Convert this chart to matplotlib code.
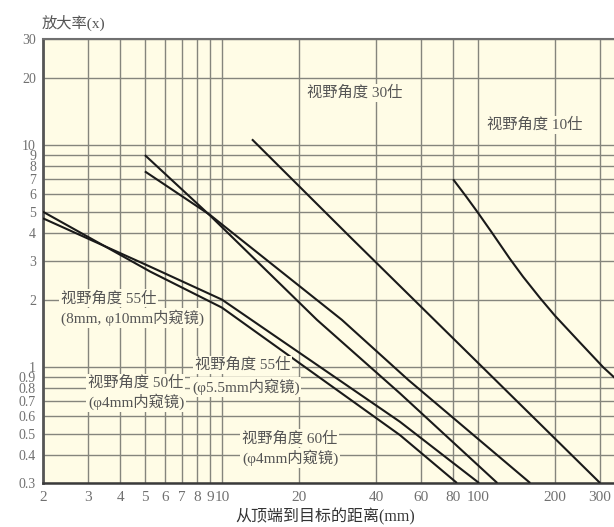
import matplotlib
matplotlib.use("Agg")
import matplotlib.pyplot as plt

# ---------------- data ----------------
x_ticks = [2, 3, 4, 5, 6, 7, 8, 9, 10, 20, 40, 60, 80, 100, 200, 300]
x_tick_labels = ["2", "3", "4", "5", "6", "7", "8", "9", "10", "20", "40", "60", "80", "100", "200", "300"]
y_ticks = [0.3, 0.4, 0.5, 0.6, 0.7, 0.8, 0.9, 1, 2, 3, 4, 5, 6, 7, 8, 9, 10, 20, 30]
y_tick_labels = ["0.3", "0.4", "0.5", "0.6", "0.7", "0.8", "0.9", "1", "2", "3", "4", "5",
                 "6", "7", "8", "9", "10", "20", "30"]

# field of view 10 deg
fov10_dist = [80, 90, 100, 113, 133, 150, 175, 200, 250, 309, 345]
fov10_mag = [7.0, 5.85, 4.95, 4.05, 3.08, 2.55, 2.04, 1.70, 1.29, 0.995, 0.885]
# field of view 30 deg
fov30_dist = [13.1, 31.6, 300]
fov30_mag = [10.6, 3.86, 0.3]
# two lines starting at 5 mm
lineA_dist = [5, 9.0, 23.5, 49.6, 119]
lineA_mag = [9.0, 4.80, 1.63, 0.76, 0.3]
lineB_dist = [5, 9.0, 29.4, 53.5, 160]
lineB_mag = [7.6, 4.83, 1.63, 0.873, 0.3]
# two lines starting at 2 mm
lineC_dist = [2, 5.24, 10, 49.6, 82.8]
lineC_mag = [5.0, 2.69, 1.85, 0.493, 0.3]
lineD_dist = [2, 5.24, 10, 49.6, 101]
lineD_mag = [4.67, 2.83, 2.01, 0.566, 0.3]

series = [
    (fov10_dist, fov10_mag),
    (fov30_dist, fov30_mag),
    (lineA_dist, lineA_mag),
    (lineB_dist, lineB_mag),
    (lineC_dist, lineC_mag),
    (lineD_dist, lineD_mag),
]

# ---------------- figure ----------------
W, H = 614, 527
BG = "#fffce6"
GRID = "#85857d"
TXT = "#555555"
CJK = ["Liberation Serif", "Noto Sans CJK SC", "DejaVu Sans"]
plt.rcParams["font.family"] = CJK

fig = plt.figure(figsize=(W / 100, H / 100), dpi=100)
fig.patch.set_facecolor("white")
ax = fig.add_axes([43 / W, 1 - 483 / H, (W - 43) / W, 444 / H])
ax.set_facecolor(BG)
ax.set_xscale("log")
ax.set_yscale("log")
ax.set_xlim(2, 340)
ax.set_ylim(0.3, 30)

ax.set_xticks(x_ticks)
ax.set_xticklabels(x_tick_labels)
ax.set_yticks(y_ticks)
ax.set_yticklabels(y_tick_labels)
ax.minorticks_off()
ax.tick_params(length=0, labelcolor="#707070")
ax.tick_params(axis="x", labelsize=11, pad=6)
ax.tick_params(axis="y", labelsize=10, pad=5)
for lab in ax.get_xticklabels() + ax.get_yticklabels():
    lab.set_family("Liberation Serif")

ax.grid(True, which="major", color=GRID, linewidth=1.0)
ax.set_axisbelow(True)

ax.spines["right"].set_visible(False)
ax.spines["left"].set_color("#555555")
ax.spines["left"].set_linewidth(2.0)
ax.spines["bottom"].set_color("#3a3a3a")
ax.spines["bottom"].set_linewidth(1.8)
ax.spines["top"].set_color("#707070")
ax.spines["top"].set_linewidth(1.5)

for xs, ys in series:
    ax.plot(xs, ys, color="#1a1a1a", linewidth=1.5, solid_capstyle="butt", zorder=3)


def px_text(px, py, s, size=11, color=TXT, ha="left", box=True, **kw):
    bbox = dict(boxstyle="square,pad=0.12", facecolor=BG, edgecolor="none") if box else None
    fig.text(px / W, 1 - py / H, s, ha=ha, va="center", fontsize=size, color=color,
             family=CJK, bbox=bbox, zorder=5, **kw)


px_text(307, 93, "视野角度 30仕")
px_text(487, 125, "视野角度 10仕")
px_text(61, 298, "视野角度 55仕")
px_text(61, 318, "(8mm, φ10mm内窥镜)")
px_text(195, 365, "视野角度 55仕")
px_text(192, 387, "(φ5.5mm内窥镜)")
px_text(88, 383, "视野角度 50仕")
px_text(88, 402, "(φ4mm内窥镜)")
px_text(242, 438, "视野角度 60仕")
px_text(242, 458, "(φ4mm内窥镜)")

# axis titles
px_text(42, 23, "放大率(x)", size=11, color="#555555", box=False)
px_text(325, 517, "从顶端到目标的距离(mm)", size=11.5, color="#333333", ha="center", box=False)

fig.savefig("out.png", dpi=100, facecolor="white")
